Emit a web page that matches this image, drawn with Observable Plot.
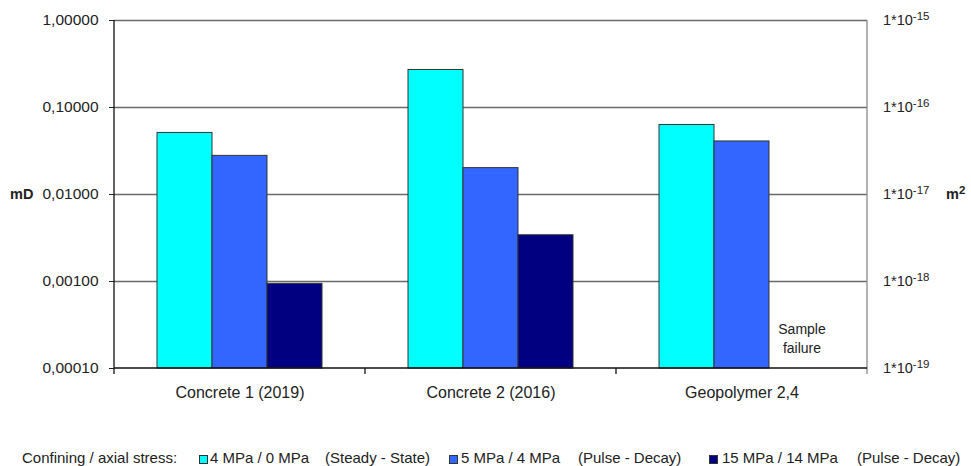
<!DOCTYPE html>
<html><head><meta charset="utf-8">
<script src="https://cdn.jsdelivr.net/npm/d3@7"></script>
<script src="https://cdn.jsdelivr.net/npm/@observablehq/plot@0.6"></script>
<style>
body{margin:0;background:#fff;font-family:"Liberation Sans",Arial,sans-serif;color:#222;}
#legend{position:relative;width:971px;height:41px;font-size:15px;}
#legend span{position:absolute;top:24px;line-height:18px;white-space:pre;}
#legend i{position:absolute;top:30px;width:7px;height:7px;border:1px solid #333;}
</style></head><body><div id="chart"></div><div id="legend"></div>
<script>
// ---- data ----
const categories = ["Concrete 1 (2019)", "Concrete 2 (2016)", "Geopolymer 2,4"];
const series = ["4 MPa / 0 MPa", "5 MPa / 4 MPa", "15 MPa / 14 MPa"];
const methods = ["(Steady - State)", "(Pulse - Decay)", "(Pulse - Decay)"];
const steadyState = [0.051, 0.27, 0.063];      // mD
const pulse5 = [0.0278, 0.0201, 0.0407];       // mD
const pulse15 = [0.00094, 0.0034, null];       // mD (sample failure for geopolymer)
const leftTicks = [0.0001, 0.001, 0.01, 0.1, 1];
const rightExponents = ["-19", "-18", "-17", "-16", "-15"];
const legendTitle = "Confining / axial stress:";
const noteText = "Sample\nfailure";
const colors = ["#00FFFF", "#3366FF", "#000080"];

const rows = [];
categories.forEach((c, i) => {
  [steadyState, pulse5, pulse15].forEach((arr, j) => {
    if (arr[i] != null) rows.push({category: c, series: series[j], value: arr[i]});
  });
});
const notes = [{category: categories[2], series: series[2], value: leftTicks[0], text: noteText}];

const fmt = d => d3.format(".5f")(d).replace(".", ",");

const plot = Plot.plot({
  width: 971, height: 425,
  marginLeft: 113, marginRight: 104, marginTop: 20, marginBottom: 57,
  style: {fontFamily: '"Liberation Sans", Arial, sans-serif', fontSize: "15px", color: "#222", background: "#fff"},
  fx: {domain: categories, padding: 0, axis: "bottom", tickSize: 0, tickPadding: 18, label: null},
  x: {domain: series, paddingInner: 0, paddingOuter: 0.744, axis: null},
  y: {type: "log", domain: [leftTicks[0], leftTicks[leftTicks.length - 1]], ticks: leftTicks, tickFormat: fmt, tickSize: 5, tickPadding: 11, label: null},
  color: {domain: series, range: colors},
  marks: [
    Plot.ruleY(leftTicks.slice(1), {stroke: "#6a6a6a", strokeWidth: 1.3}),
    Plot.barY(rows, {fx: "category", x: "series", y1: leftTicks[0], y2: "value", fill: "series", stroke: "#333", strokeWidth: 1}),
    Plot.text(notes, {fx: "category", x: "series", y: "value", text: "text", lineAnchor: "bottom", dy: -16, dx: 5, fontSize: 14, lineHeight: 1.3, fill: "#222"})
  ]
});
document.getElementById("chart").appendChild(plot);

// ---- decorations using the plot's scales ----
const svg = d3.select(plot);
svg.selectAll('[aria-label^="fx-axis"] text').attr("font-size", 16);
svg.selectAll('[aria-label^="y-axis"] text').attr("font-size", 15.5);
const ys = plot.scale("y");
const fxs = plot.scale("fx");
const yTop = ys.apply(leftTicks[leftTicks.length - 1]);
const yBot = ys.apply(leftTicks[0]);
const xL = fxs.apply(categories[0]);
const xR = fxs.apply(categories[categories.length - 1]) + fxs.bandwidth;
const deco = svg.append("g");
deco.append("line").attr("x1", xR).attr("x2", xR).attr("y1", yTop).attr("y2", yBot + 6).attr("stroke", "#888").attr("stroke-width", 1.3);
deco.append("line").attr("x1", xL).attr("x2", xL).attr("y1", yTop).attr("y2", yBot + 6).attr("stroke", "#111").attr("stroke-width", 1.3);
deco.append("line").attr("x1", xL).attr("x2", xR).attr("y1", yBot).attr("y2", yBot).attr("stroke", "#111").attr("stroke-width", 1.3);
categories.slice(1).forEach(c => {
  const x = fxs.apply(c);
  deco.append("line").attr("x1", x).attr("x2", x).attr("y1", yBot).attr("y2", yBot + 6).attr("stroke", "#111").attr("stroke-width", 1.3);
});
// right axis labels (m^2)
const rg = svg.append("g").attr("font-family", '"Liberation Sans", Arial, sans-serif').attr("fill", "#222").attr("text-anchor", "start");
leftTicks.forEach((v, i) => {
  const t = rg.append("text").attr("x", xR + 16).attr("y", ys.apply(v)).attr("dy", "0.35em").attr("font-size", 14.5);
  t.append("tspan").text("1*10");
  t.append("tspan").attr("dy", "-0.45em").attr("font-size", 11.5).text(rightExponents[i]);
});
// axis titles
const midY = ys.apply(leftTicks[2]);
rg.append("text").attr("x", 10).attr("y", midY).attr("dy", "0.35em").attr("font-size", 14.5).attr("font-weight", "bold").text("mD");
const m2 = rg.append("text").attr("x", 946).attr("y", midY).attr("dy", "0.35em").attr("font-size", 14.5).attr("font-weight", "bold");
m2.append("tspan").text("m");
m2.append("tspan").attr("dy", "-0.45em").attr("font-size", 11.5).text("2");

// ---- legend ----
const legend = d3.select("#legend");
const layout = {title: 22, items: [[199, 210, 325], [449, 461, 578], [709, 722, 857]]};
legend.append("span").style("left", layout.title + "px").text(legendTitle);
series.forEach((s, i) => {
  const [sw, tx, mx] = layout.items[i];
  legend.append("i").style("left", sw + "px").style("background", colors[i]);
  legend.append("span").style("left", tx + "px").text(s);
  legend.append("span").style("left", mx + "px").text(methods[i]);
});
</script></body></html>
